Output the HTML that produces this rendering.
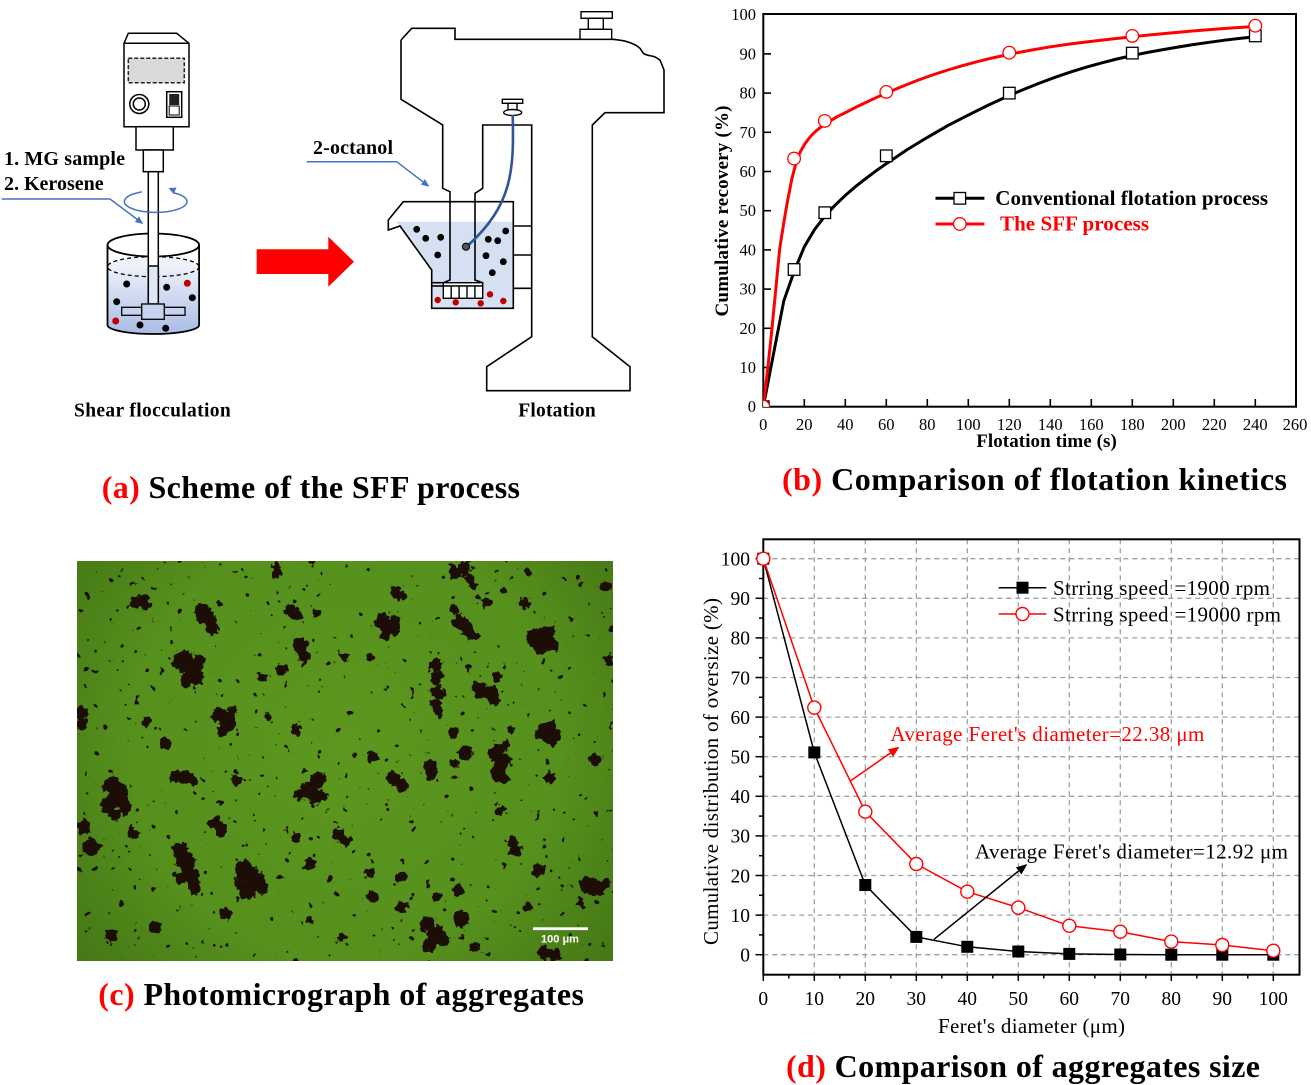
<!DOCTYPE html>
<html><head><meta charset="utf-8"><style>
html,body{margin:0;padding:0;background:#fff;}
svg{display:block;}
text{font-family:"Liberation Serif","DejaVu Serif",serif;}
</style></head><body>
<svg width="1311" height="1085" viewBox="0 0 1311 1085" xmlns="http://www.w3.org/2000/svg">
<defs>
<linearGradient id="liq" x1="0" y1="266" x2="0" y2="335" gradientUnits="userSpaceOnUse">
<stop offset="0" stop-color="#eef2fa"/><stop offset="1" stop-color="#a9bbe5"/></linearGradient>
<radialGradient id="grn" cx="345" cy="745" r="330" gradientUnits="userSpaceOnUse">
<stop offset="0" stop-color="#5c971f"/><stop offset="0.65" stop-color="#56901d"/><stop offset="1" stop-color="#467a16"/></radialGradient>
<filter id="spk" x="77" y="561" width="536" height="400" filterUnits="userSpaceOnUse" color-interpolation-filters="sRGB">
<feTurbulence type="fractalNoise" baseFrequency="0.12" numOctaves="2" seed="7" result="n"/>
<feColorMatrix in="n" type="matrix" values="0 0 0 0 0.1  0 0 0 0 0.06  0 0 0 0 0.03  24 0 0 0 -17.4"/>
</filter>
<filter id="rough" x="60" y="545" width="570" height="430" filterUnits="userSpaceOnUse" color-interpolation-filters="sRGB">
<feTurbulence type="fractalNoise" baseFrequency="0.18" numOctaves="2" seed="3" result="t"/>
<feDisplacementMap in="SourceGraphic" in2="t" scale="9" xChannelSelector="R" yChannelSelector="G"/>
</filter>
<clipPath id="cb"><rect x="763.3" y="14" width="532.7" height="392.7"/></clipPath>
<clipPath id="cph"><rect x="77" y="561" width="536" height="400"/></clipPath>
</defs>

<!-- ============ PANEL A ============ -->
<g stroke="#000" stroke-width="1.5" fill="#fff">
<path d="M128.3,33.3 L176.7,33.3 L189,43.3 L189,126.7 L124,126.7 L124,43.3 Z"/>
<line x1="124" y1="43.3" x2="189" y2="43.3"/>
<rect x="128.3" y="58.3" width="56" height="24.4" fill="#d9d9d9" stroke="#222" stroke-dasharray="4 2"/>
<circle cx="139.3" cy="104" r="9.5"/>
<circle cx="139.3" cy="104" r="6"/>
<rect x="166.7" y="91.7" width="15" height="25.6"/>
<rect x="169.2" y="94" width="10" height="11" fill="#222" stroke="none"/>
<rect x="169.2" y="106" width="10" height="9" stroke-width="1"/>
<rect x="136" y="126.7" width="37.3" height="23.3"/>
<rect x="143.3" y="150" width="20" height="21.7"/>
</g>
<path d="M107.5,266.7 A45.8,10 0 0 1 199.1,266.7 L199.1,325 A45.8,9 0 0 1 107.5,325 Z" fill="url(#liq)"/>
<ellipse cx="153.3" cy="266.7" rx="45.8" ry="10" fill="none" stroke="#000" stroke-width="1.3" stroke-dasharray="4 3"/>
<g fill="none" stroke="#000" stroke-width="1.8">
<ellipse cx="153.3" cy="245" rx="45.8" ry="11.5"/>
<line x1="107.5" y1="245" x2="107.5" y2="325"/>
<line x1="199.1" y1="245" x2="199.1" y2="325"/>
<path d="M107.5,325 A45.8,9 0 0 0 199.1,325"/>
</g>
<rect x="148.3" y="171.7" width="10" height="133" fill="#fff" stroke="#000" stroke-width="1.5"/>
<rect x="148.3" y="266" width="10" height="38" fill="#dfe7f5" stroke="#000" stroke-width="1.5"/>
<rect x="121.7" y="307.3" width="63.3" height="8" fill="#c5d3ee" stroke="#000" stroke-width="1.3"/>
<rect x="141.7" y="304" width="22.6" height="15.3" fill="#c5d3ee" stroke="#000" stroke-width="1.3"/>
<g fill="#000">
<circle cx="126.7" cy="284" r="3.5"/><circle cx="166.7" cy="287.3" r="3.5"/><circle cx="116.7" cy="301.7" r="3.5"/>
<circle cx="192.3" cy="297.7" r="3.5"/><circle cx="140" cy="325" r="3.5"/><circle cx="165.7" cy="328.3" r="3.5"/>
</g>
<circle cx="187.3" cy="283.3" r="3.5" fill="#c00000"/><circle cx="115.7" cy="321" r="3.5" fill="#c00000"/>
<path d="M141.8,191.9 A31.3,10.8 0 1 0 173,192.6" fill="none" stroke="#4472c4" stroke-width="1.5"/>
<polygon points="168.5,188 176.5,187.6 173.6,194" fill="#4472c4"/>
<polyline points="1.7,199 110,199 137.5,219.6" fill="none" stroke="#4472c4" stroke-width="1.5"/>
<polygon points="143.3,224 134.8,222 139,216.4" fill="#4472c4"/>
<text x="4" y="165" font-size="20" font-weight="bold" textLength="121">1. MG sample</text>
<text x="4" y="190" font-size="20" font-weight="bold">2. Kerosene</text>
<text x="74" y="416.7" font-size="19.5" font-weight="bold" textLength="156.7">Shear flocculation</text>
<polygon points="256.7,249.3 328.3,249.3 328.3,236.7 354,261.7 328.3,286.7 328.3,274 256.7,274" fill="#ff0000"/>

<path d="M396,221.7 L513.3,221.7 L513.3,308.3 L431.7,308.3 L431.7,270 L400,226 Z" fill="#d5e0f2"/>
<g fill="none" stroke="#000" stroke-width="1.6">
<path d="M401,40 L411.7,28.3 L455,28.3 L455,39.3 L611.7,39.3 C624,40 634,43 640,48.3 L643.3,53.3 C648,56.5 652,55 656,57.5 L660,60 L664,70 L664,112.7 L605,112.7 L592.3,125 L592.3,336.7 L630,366.7 L630,390.7 L486.7,390.7 L486.7,366.7 L531.7,336.7 L531.7,125 L482.7,125 L482.7,188.3 L475,193.3 L475,280 L482.7,282.7"/>
<path d="M401,40 L401,99.3 L442.7,125 L442.7,188.3 L450,191.7 L450,280 L443.3,282.7"/>
<path d="M403.3,201.7 L513.3,201.7 L513.3,308.3 L431.7,308.3 L431.7,270 L400,226 L388.3,230 L388.3,220 Z"/>
<line x1="513.3" y1="226" x2="531.7" y2="226"/>
<line x1="513.3" y1="255" x2="531.7" y2="255"/>
<line x1="513.3" y1="288.3" x2="531.7" y2="288.3"/>
<line x1="431.7" y1="282.7" x2="443.3" y2="282.7"/>
<line x1="431.7" y1="286" x2="443.3" y2="286"/>
</g>
<g stroke="#000" stroke-width="1.4" fill="#fff">
<rect x="443.3" y="282.7" width="39.4" height="3.3"/>
<rect x="443.3" y="286" width="39.4" height="12.3"/>
<line x1="451.2" y1="286" x2="451.2" y2="298.3"/><line x1="459.1" y1="286" x2="459.1" y2="298.3"/>
<line x1="467" y1="286" x2="467" y2="298.3"/><line x1="474.9" y1="286" x2="474.9" y2="298.3"/>
<rect x="581" y="11.7" width="31.3" height="6.6"/>
<rect x="588.3" y="18.3" width="15" height="11"/>
<rect x="580" y="29.3" width="31.7" height="10"/>
<rect x="502.3" y="99.3" width="20.4" height="4"/>
<rect x="508" y="103.3" width="9" height="6.5"/>
<ellipse cx="512.7" cy="112.5" rx="9" ry="3"/>
</g>
<path d="M512.7,115 C514,170 513,205 466.7,246.7" fill="none" stroke="#2e5597" stroke-width="2.6"/>
<circle cx="466" cy="246.7" r="3.6" fill="#555" stroke="#000" stroke-width="1"/>
<g fill="#000">
<circle cx="416.7" cy="229.3" r="3.4"/><circle cx="425.7" cy="238.3" r="3.4"/><circle cx="440.7" cy="237.3" r="3.4"/>
<circle cx="437.7" cy="255" r="3.4"/><circle cx="488.3" cy="239.3" r="3.4"/><circle cx="497.7" cy="240.7" r="3.4"/>
<circle cx="505.7" cy="231" r="3.4"/><circle cx="486" cy="255.7" r="3.4"/><circle cx="503.3" cy="261.7" r="3.4"/>
<circle cx="492.3" cy="272.7" r="3.4"/>
</g>
<g fill="#c00000">
<circle cx="437.7" cy="300" r="3.2"/><circle cx="455.7" cy="302.3" r="3.2"/><circle cx="480.7" cy="303.3" r="3.2"/>
<circle cx="490" cy="294.3" r="3.2"/><circle cx="503.3" cy="301" r="3.2"/>
</g>
<polyline points="306.7,161.7 396.7,161.7 422.9,181.8" fill="none" stroke="#4472c4" stroke-width="1.5"/>
<polygon points="429.3,186.7 420.8,184.6 425,179" fill="#4472c4"/>
<text x="313" y="154" font-size="20" font-weight="bold" textLength="80">2-octanol</text>
<text x="518.3" y="416.7" font-size="19.5" font-weight="bold" textLength="77.4">Flotation</text>

<!-- ============ PANEL B ============ -->
<rect x="763.3" y="14" width="532.7" height="392.7" fill="none" stroke="#000" stroke-width="2"/>
<g stroke="#000" stroke-width="1.6">
<line x1="763.3" y1="367.5" x2="771" y2="367.5"/><line x1="763.3" y1="328.3" x2="771" y2="328.3"/>
<line x1="763.3" y1="289.1" x2="771" y2="289.1"/><line x1="763.3" y1="249.9" x2="771" y2="249.9"/>
<line x1="763.3" y1="210.7" x2="771" y2="210.7"/><line x1="763.3" y1="171.5" x2="771" y2="171.5"/>
<line x1="763.3" y1="132.3" x2="771" y2="132.3"/><line x1="763.3" y1="93.1" x2="771" y2="93.1"/>
<line x1="763.3" y1="53.9" x2="771" y2="53.9"/>
<line x1="804.3" y1="406.7" x2="804.3" y2="399"/><line x1="845.3" y1="406.7" x2="845.3" y2="399"/>
<line x1="886.3" y1="406.7" x2="886.3" y2="399"/><line x1="927.3" y1="406.7" x2="927.3" y2="399"/>
<line x1="968.3" y1="406.7" x2="968.3" y2="399"/><line x1="1009.3" y1="406.7" x2="1009.3" y2="399"/>
<line x1="1050.3" y1="406.7" x2="1050.3" y2="399"/><line x1="1091.3" y1="406.7" x2="1091.3" y2="399"/>
<line x1="1132.3" y1="406.7" x2="1132.3" y2="399"/><line x1="1173.3" y1="406.7" x2="1173.3" y2="399"/>
<line x1="1214.3" y1="406.7" x2="1214.3" y2="399"/><line x1="1255.3" y1="406.7" x2="1255.3" y2="399"/>
</g>
<g font-size="16.5" text-anchor="end">
<text x="756" y="412.2">0</text><text x="756" y="373">10</text><text x="756" y="333.8">20</text>
<text x="756" y="294.6">30</text><text x="756" y="255.4">40</text><text x="756" y="216.2">50</text>
<text x="756" y="177">60</text><text x="756" y="137.8">70</text><text x="756" y="98.6">80</text>
<text x="756" y="59.4">90</text><text x="756" y="20.2">100</text>
</g>
<g font-size="16.5" text-anchor="middle">
<text x="763.3" y="430">0</text><text x="804.3" y="430">20</text><text x="845.3" y="430">40</text>
<text x="886.3" y="430">60</text><text x="927.3" y="430">80</text><text x="968.3" y="430">100</text>
<text x="1009.3" y="430">120</text><text x="1050.3" y="430">140</text><text x="1091.3" y="430">160</text>
<text x="1132.3" y="430">180</text><text x="1173.3" y="430">200</text><text x="1214.3" y="430">220</text>
<text x="1255.3" y="430">240</text><text x="1295" y="430">260</text>
</g>
<text transform="translate(728,211) rotate(-90)" text-anchor="middle" font-size="19" font-weight="bold" textLength="211">Cumulative recovery (%)</text>
<text x="1046.5" y="447" text-anchor="middle" font-size="19" font-weight="bold" textLength="140.6">Flotation time (s)</text>
<g clip-path="url(#cb)">
<polyline fill="none" stroke="#000" stroke-width="3" stroke-linejoin="round" points="763.3,406.7 773.6,353.4 783.8,300.9 794.1,271.5 804.3,246.8 814.6,229.5 824.8,216.2 835.1,205.2 845.3,195.4 855.5,186.6 865.8,178.6 876,170.9 886.3,163.7 906.8,149.9 927.3,137.4 947.8,125.6 968.3,115.1 988.8,104.9 1009.3,95.5 1024.7,89 1040.1,82.9 1055.4,77.2 1070.8,71.9 1086.2,67.2 1101.6,62.9 1116.9,59 1132.3,55.5 1147.7,52.4 1163.1,49.6 1178.4,47 1193.8,44.5 1209.2,42.3 1224.6,40.2 1239.9,38.4 1255.3,36.7"/>
<polyline fill="none" stroke="#ff0000" stroke-width="3" stroke-linejoin="round" points="763.3,406.7 767.4,371.4 771.5,333.4 775.6,291.1 779.7,248.7 783.8,222.5 787.9,198.9 792,178.2 796.1,162.5 800.2,151.9 804.3,144.8 808.4,139 812.5,134.3 816.6,130.5 820.7,127.2 828.9,121.7 837.1,116.7 845.3,112.7 855.5,107.4 865.8,102.5 876,97.7 886.3,93.1 901.7,86.6 917.1,80.5 932.4,75 947.8,70 963.2,65.4 978.6,61.3 993.9,57.6 1009.3,54.3 1029.8,50.4 1050.3,46.8 1070.8,43.9 1091.3,41.4 1111.8,39 1132.3,36.7 1152.8,34.6 1173.3,32.7 1193.8,30.9 1214.3,29.2 1234.8,27.8 1255.3,26.5"/>
<g fill="#fff" stroke="#000" stroke-width="1.3">
<rect x="757.5" y="400.9" width="11.6" height="11.6"/><rect x="788.3" y="263.7" width="11.6" height="11.6"/>
<rect x="819" y="206.9" width="11.6" height="11.6"/><rect x="880.5" y="150" width="11.6" height="11.6"/>
<rect x="1003.5" y="87.3" width="11.6" height="11.6"/><rect x="1126.5" y="47.3" width="11.6" height="11.6"/>
<rect x="1249.5" y="30.1" width="11.6" height="11.6"/>
</g>
<g fill="#fff" stroke="#ff0000" stroke-width="1.3">
<circle cx="763.3" cy="406.7" r="6.3"/><circle cx="794.1" cy="158.6" r="6.3"/><circle cx="824.8" cy="120.9" r="6.3"/>
<circle cx="886.3" cy="91.9" r="6.3"/><circle cx="1009.3" cy="52.7" r="6.3"/><circle cx="1132.3" cy="35.9" r="6.3"/>
<circle cx="1255.3" cy="25.7" r="6.3"/>
</g>
</g>
<line x1="935.5" y1="198.3" x2="984.4" y2="198.3" stroke="#000" stroke-width="3"/>
<rect x="954" y="192.5" width="11.6" height="11.6" fill="#fff" stroke="#000" stroke-width="1.3"/>
<line x1="935.5" y1="224" x2="984.4" y2="224" stroke="#ff0000" stroke-width="3"/>
<circle cx="959.8" cy="224" r="6.3" fill="#fff" stroke="#ff0000" stroke-width="1.3"/>
<text x="995.3" y="205" font-size="21" font-weight="bold" textLength="272.7">Conventional flotation process</text>
<text x="1000" y="230.7" font-size="21" font-weight="bold" fill="#ff0000" textLength="149">The SFF process</text>

<!-- captions -->
<text x="101.7" y="498" font-size="32" font-weight="bold" textLength="418.3"><tspan fill="#ff0000">(a)</tspan> Scheme of the SFF process</text>
<text x="782" y="490" font-size="32" font-weight="bold" textLength="505"><tspan fill="#ff0000">(b)</tspan> Comparison of flotation kinetics</text>
<text x="98.3" y="1005" font-size="32" font-weight="bold" textLength="485.7"><tspan fill="#ff0000">(c)</tspan> Photomicrograph of aggregates</text>
<text x="786" y="1077" font-size="32" font-weight="bold" textLength="474"><tspan fill="#ff0000">(d)</tspan> Comparison of aggregates size</text>

<!-- ============ PANEL C (photo) ============ -->
<rect x="77" y="561" width="536" height="400" fill="url(#grn)"/>
<g clip-path="url(#cph)">
<rect x="77" y="561" width="536" height="400" filter="url(#spk)"/>
<g fill="#1c0d07" filter="url(#rough)">
<circle cx="133.5" cy="583" r="3"/><circle cx="135" cy="603" r="6"/><circle cx="143" cy="601" r="6"/><circle cx="148" cy="606" r="4"/>
<circle cx="276" cy="566" r="5"/><circle cx="277" cy="574" r="5"/><circle cx="313" cy="563" r="3"/>
<circle cx="455" cy="572" r="7"/><circle cx="465" cy="568" r="7"/><circle cx="470" cy="578" r="5"/><circle cx="472" cy="585" r="4"/>
<circle cx="396" cy="592" r="6"/><circle cx="402" cy="596" r="5"/><circle cx="528" cy="573" r="4"/><circle cx="525" cy="603" r="5"/>
<circle cx="606" cy="587" r="6"/><circle cx="581" cy="583" r="2"/><circle cx="504" cy="590" r="3"/>
<circle cx="203" cy="610" r="8"/><circle cx="210" cy="620" r="7"/><circle cx="212" cy="630" r="6"/><circle cx="200" cy="618" r="5"/>
<circle cx="290" cy="610" r="6"/><circle cx="295" cy="615" r="6"/><circle cx="317" cy="613" r="4"/>
<circle cx="383" cy="622" r="8"/><circle cx="392" cy="628" r="8"/><circle cx="385" cy="635" r="6"/><circle cx="395" cy="620" r="5"/>
<circle cx="460" cy="622" r="7"/><circle cx="468" cy="630" r="7"/><circle cx="474" cy="637" r="5"/>
<circle cx="486" cy="603" r="5"/><circle cx="454" cy="610" r="5"/>
<circle cx="535" cy="638" r="9"/><circle cx="546" cy="635" r="9"/><circle cx="552" cy="645" r="7"/><circle cx="540" cy="648" r="6"/>
<circle cx="609" cy="660" r="5"/>
<circle cx="183" cy="660" r="10"/><circle cx="192" cy="668" r="11"/><circle cx="196" cy="678" r="8"/><circle cx="186" cy="680" r="7"/><circle cx="178" cy="665" r="6"/><circle cx="200" cy="660" r="6"/>
<circle cx="300" cy="645" r="7"/><circle cx="304" cy="655" r="7"/><circle cx="281.6" cy="670" r="6"/><circle cx="262" cy="677" r="5"/>
<circle cx="345" cy="657" r="5"/><circle cx="370" cy="657" r="4"/>
<circle cx="436" cy="665" r="6"/><circle cx="437" cy="678" r="7"/><circle cx="438" cy="692" r="7"/><circle cx="436" cy="705" r="6"/><circle cx="438" cy="712" r="5"/>
<circle cx="480" cy="690" r="8"/><circle cx="490" cy="693" r="8"/><circle cx="495" cy="700" r="5"/><circle cx="497" cy="677" r="5"/><circle cx="468" cy="667" r="4"/>
<circle cx="220" cy="715" r="8"/><circle cx="228" cy="722" r="9"/><circle cx="222" cy="730" r="6"/><circle cx="232" cy="712" r="5"/>
<circle cx="80" cy="712" r="7"/><circle cx="82" cy="724" r="6"/><circle cx="165" cy="743" r="6"/><circle cx="147.6" cy="722" r="5"/>
<circle cx="295.7" cy="730" r="6"/><circle cx="545" cy="733" r="9"/><circle cx="553" cy="737" r="8"/><circle cx="550" cy="727" r="6"/>
<circle cx="454" cy="733" r="6"/><circle cx="510.8" cy="730" r="4"/><circle cx="352" cy="713" r="3"/><circle cx="267.5" cy="717" r="4"/>
<circle cx="496" cy="752" r="8"/><circle cx="502" cy="762" r="9"/><circle cx="498" cy="773" r="8"/><circle cx="505" cy="780" r="5"/><circle cx="505" cy="745" r="5"/>
<circle cx="465" cy="753" r="7"/><circle cx="454" cy="763" r="5"/><circle cx="430" cy="766" r="6"/><circle cx="431" cy="774" r="6"/>
<circle cx="394" cy="778" r="7"/><circle cx="402" cy="785" r="6"/><circle cx="373" cy="757" r="5"/>
<circle cx="318" cy="780" r="8"/><circle cx="310" cy="790" r="9"/><circle cx="300" cy="795" r="6"/><circle cx="322" cy="795" r="6"/><circle cx="315" cy="800" r="5"/>
<circle cx="175" cy="776" r="6"/><circle cx="185" cy="777" r="7"/><circle cx="193" cy="780" r="5"/>
<circle cx="112" cy="785" r="9"/><circle cx="118" cy="795" r="11"/><circle cx="108" cy="805" r="8"/><circle cx="125" cy="808" r="7"/><circle cx="115" cy="815" r="6"/>
<circle cx="236" cy="780" r="5"/><circle cx="549.5" cy="777" r="6"/><circle cx="595" cy="760" r="6"/>
<circle cx="91" cy="847" r="9"/><circle cx="84" cy="827" r="7"/><circle cx="133.5" cy="833" r="6"/>
<circle cx="215" cy="823" r="7"/><circle cx="221" cy="830" r="6"/><circle cx="338" cy="835" r="6"/><circle cx="345" cy="840" r="6"/><circle cx="295.7" cy="837" r="5"/>
<circle cx="180" cy="850" r="8"/><circle cx="186" cy="862" r="10"/><circle cx="190" cy="875" r="9"/><circle cx="195" cy="888" r="7"/><circle cx="180" cy="878" r="6"/>
<circle cx="245" cy="870" r="10"/><circle cx="255" cy="880" r="10"/><circle cx="248" cy="892" r="8"/><circle cx="262" cy="888" r="6"/><circle cx="240" cy="885" r="6"/>
<circle cx="512" cy="843" r="6"/><circle cx="516" cy="851" r="6"/><circle cx="539" cy="870" r="7"/><circle cx="500" cy="810" r="5"/>
<circle cx="310" cy="863" r="6"/><circle cx="370" cy="873" r="6"/><circle cx="401.5" cy="877" r="5"/>
<circle cx="588" cy="885" r="8"/><circle cx="598" cy="888" r="8"/><circle cx="606" cy="884" r="5"/>
<circle cx="458" cy="890" r="6"/><circle cx="437" cy="897" r="5"/>
<circle cx="112" cy="937" r="7"/><circle cx="154.6" cy="927" r="6"/><circle cx="225" cy="913" r="6"/>
<circle cx="428" cy="925" r="8"/><circle cx="436" cy="935" r="9"/><circle cx="430" cy="945" r="7"/><circle cx="443" cy="940" r="6"/>
<circle cx="461" cy="920" r="8"/><circle cx="475.5" cy="947" r="6"/><circle cx="545" cy="953" r="7"/><circle cx="554" cy="955" r="6"/>
<circle cx="401.5" cy="907" r="6"/><circle cx="373" cy="897" r="6"/><circle cx="341.5" cy="937" r="4"/><circle cx="310" cy="920" r="4"/>
<circle cx="528" cy="907" r="4"/><circle cx="581" cy="903" r="4"/>
</g>
</g>
<rect x="533" y="927.3" width="55" height="2.8" fill="#fff"/>
<text x="560" y="942.5" font-size="11" font-weight="bold" fill="#fff" text-anchor="middle" style="font-family:'Liberation Sans',sans-serif">100 μm</text>

<!-- ============ PANEL D ============ -->
<g stroke="#a0a0a0" stroke-width="1.3" stroke-dasharray="5 4">
<line x1="814.3" y1="539.3" x2="814.3" y2="974.7"/><line x1="865.3" y1="539.3" x2="865.3" y2="974.7"/>
<line x1="916.3" y1="539.3" x2="916.3" y2="974.7"/><line x1="967.3" y1="539.3" x2="967.3" y2="974.7"/>
<line x1="1018.3" y1="539.3" x2="1018.3" y2="974.7"/><line x1="1069.3" y1="539.3" x2="1069.3" y2="974.7"/>
<line x1="1120.3" y1="539.3" x2="1120.3" y2="974.7"/><line x1="1171.3" y1="539.3" x2="1171.3" y2="974.7"/>
<line x1="1222.3" y1="539.3" x2="1222.3" y2="974.7"/><line x1="1273.3" y1="539.3" x2="1273.3" y2="974.7"/>
<line x1="763.3" y1="954.7" x2="1299.5" y2="954.7"/><line x1="763.3" y1="915.1" x2="1299.5" y2="915.1"/>
<line x1="763.3" y1="875.5" x2="1299.5" y2="875.5"/><line x1="763.3" y1="835.9" x2="1299.5" y2="835.9"/>
<line x1="763.3" y1="796.3" x2="1299.5" y2="796.3"/><line x1="763.3" y1="756.7" x2="1299.5" y2="756.7"/>
<line x1="763.3" y1="717.1" x2="1299.5" y2="717.1"/><line x1="763.3" y1="677.5" x2="1299.5" y2="677.5"/>
<line x1="763.3" y1="637.9" x2="1299.5" y2="637.9"/><line x1="763.3" y1="598.3" x2="1299.5" y2="598.3"/>
<line x1="763.3" y1="558.7" x2="1299.5" y2="558.7"/>
</g>
<rect x="763.3" y="539.3" width="536.2" height="435.4" fill="none" stroke="#000" stroke-width="2"/>
<g stroke="#000" stroke-width="1.5">
<line x1="755.5" y1="954.7" x2="763.3" y2="954.7"/><line x1="755.5" y1="915.1" x2="763.3" y2="915.1"/>
<line x1="755.5" y1="875.5" x2="763.3" y2="875.5"/><line x1="755.5" y1="835.9" x2="763.3" y2="835.9"/>
<line x1="755.5" y1="796.3" x2="763.3" y2="796.3"/><line x1="755.5" y1="756.7" x2="763.3" y2="756.7"/>
<line x1="755.5" y1="717.1" x2="763.3" y2="717.1"/><line x1="755.5" y1="677.5" x2="763.3" y2="677.5"/>
<line x1="755.5" y1="637.9" x2="763.3" y2="637.9"/><line x1="755.5" y1="598.3" x2="763.3" y2="598.3"/>
<line x1="755.5" y1="558.7" x2="763.3" y2="558.7"/>
<line x1="759" y1="934.9" x2="763.3" y2="934.9"/><line x1="759" y1="895.3" x2="763.3" y2="895.3"/>
<line x1="759" y1="855.7" x2="763.3" y2="855.7"/><line x1="759" y1="816.1" x2="763.3" y2="816.1"/>
<line x1="759" y1="776.5" x2="763.3" y2="776.5"/><line x1="759" y1="736.9" x2="763.3" y2="736.9"/>
<line x1="759" y1="697.3" x2="763.3" y2="697.3"/><line x1="759" y1="657.7" x2="763.3" y2="657.7"/>
<line x1="759" y1="618.1" x2="763.3" y2="618.1"/><line x1="759" y1="578.5" x2="763.3" y2="578.5"/>
<line x1="763.3" y1="974.7" x2="763.3" y2="981"/><line x1="814.3" y1="974.7" x2="814.3" y2="981"/>
<line x1="865.3" y1="974.7" x2="865.3" y2="981"/><line x1="916.3" y1="974.7" x2="916.3" y2="981"/>
<line x1="967.3" y1="974.7" x2="967.3" y2="981"/><line x1="1018.3" y1="974.7" x2="1018.3" y2="981"/>
<line x1="1069.3" y1="974.7" x2="1069.3" y2="981"/><line x1="1120.3" y1="974.7" x2="1120.3" y2="981"/>
<line x1="1171.3" y1="974.7" x2="1171.3" y2="981"/><line x1="1222.3" y1="974.7" x2="1222.3" y2="981"/>
<line x1="1273.3" y1="974.7" x2="1273.3" y2="981"/>
<line x1="788.8" y1="974.7" x2="788.8" y2="978.5"/><line x1="839.8" y1="974.7" x2="839.8" y2="978.5"/>
<line x1="890.8" y1="974.7" x2="890.8" y2="978.5"/><line x1="941.8" y1="974.7" x2="941.8" y2="978.5"/>
<line x1="992.8" y1="974.7" x2="992.8" y2="978.5"/><line x1="1043.8" y1="974.7" x2="1043.8" y2="978.5"/>
<line x1="1094.8" y1="974.7" x2="1094.8" y2="978.5"/><line x1="1145.8" y1="974.7" x2="1145.8" y2="978.5"/>
<line x1="1196.8" y1="974.7" x2="1196.8" y2="978.5"/><line x1="1247.8" y1="974.7" x2="1247.8" y2="978.5"/>
</g>
<g font-size="19.5" text-anchor="end">
<text x="750" y="961.5">0</text><text x="750" y="921.9">10</text><text x="750" y="882.3">20</text>
<text x="750" y="842.7">30</text><text x="750" y="803.1">40</text><text x="750" y="763.5">50</text>
<text x="750" y="723.9">60</text><text x="750" y="684.3">70</text><text x="750" y="644.7">80</text>
<text x="750" y="605.1">90</text><text x="750" y="565.5">100</text>
</g>
<g font-size="19.5" text-anchor="middle">
<text x="763.3" y="1005">0</text><text x="814.3" y="1005">10</text><text x="865.3" y="1005">20</text>
<text x="916.3" y="1005">30</text><text x="967.3" y="1005">40</text><text x="1018.3" y="1005">50</text>
<text x="1069.3" y="1005">60</text><text x="1120.3" y="1005">70</text><text x="1171.3" y="1005">80</text>
<text x="1222.3" y="1005">90</text><text x="1273.3" y="1005">100</text>
</g>
<text transform="translate(718,771.5) rotate(-90)" text-anchor="middle" font-size="21" textLength="347">Cumulative distribution of oversize (%)</text>
<text x="1031.5" y="1033" text-anchor="middle" font-size="21" textLength="187">Feret's diameter (μm)</text>
<polyline fill="none" stroke="#000" stroke-width="1.5" stroke-linejoin="round" points="763.3,558.7 814.3,752.4 865.3,885 916.3,936.9 967.3,946.8 1018.3,951.5 1069.3,953.9 1120.3,954.5 1171.3,954.7 1222.3,954.7 1273.3,954.7"/>
<g fill="#000">
<rect x="757.3" y="552.7" width="12" height="12"/><rect x="808.3" y="746.4" width="12" height="12"/>
<rect x="859.3" y="879" width="12" height="12"/><rect x="910.3" y="930.9" width="12" height="12"/>
<rect x="961.3" y="940.8" width="12" height="12"/><rect x="1012.3" y="945.5" width="12" height="12"/>
<rect x="1063.3" y="947.9" width="12" height="12"/><rect x="1114.3" y="948.5" width="12" height="12"/>
<rect x="1165.3" y="948.7" width="12" height="12"/><rect x="1216.3" y="948.7" width="12" height="12"/>
<rect x="1267.3" y="948.7" width="12" height="12"/>
</g>
<polyline fill="none" stroke="#ff0000" stroke-width="1.5" stroke-linejoin="round" points="763.3,558.7 814.3,707.6 865.3,811.7 916.3,864 967.3,891.7 1018.3,907.6 1069.3,925.8 1120.3,931.7 1171.3,941.6 1222.3,945 1273.3,950.7"/>
<g fill="#fff" stroke="#ff0000" stroke-width="1.4">
<circle cx="763.3" cy="558.7" r="6.5"/><circle cx="814.3" cy="707.6" r="6.5"/><circle cx="865.3" cy="811.7" r="6.5"/>
<circle cx="916.3" cy="864" r="6.5"/><circle cx="967.3" cy="891.7" r="6.5"/><circle cx="1018.3" cy="907.6" r="6.5"/>
<circle cx="1069.3" cy="925.8" r="6.5"/><circle cx="1120.3" cy="931.7" r="6.5"/><circle cx="1171.3" cy="941.6" r="6.5"/>
<circle cx="1222.3" cy="945" r="6.5"/><circle cx="1273.3" cy="950.7" r="6.5"/>
</g>
<line x1="998.7" y1="587.7" x2="1046.3" y2="587.7" stroke="#000" stroke-width="1.5"/>
<rect x="1016.5" y="581.7" width="12" height="12" fill="#000"/>
<line x1="998.7" y1="614" x2="1046.3" y2="614" stroke="#ff0000" stroke-width="1.5"/>
<circle cx="1022.5" cy="614" r="6.5" fill="#fff" stroke="#ff0000" stroke-width="1.4"/>
<text x="1053" y="595" font-size="21" textLength="217">Strring speed =1900 rpm</text>
<text x="1053" y="621.7" font-size="21" textLength="228">Strring speed =19000 rpm</text>
<text x="890.4" y="741" font-size="21" fill="#ff0000" textLength="314">Average Feret's diameter=22.38 μm</text>
<line x1="850.7" y1="780.7" x2="890.5" y2="753" stroke="#ff0000" stroke-width="1.5"/>
<polygon points="899.5,746.7 893.1,756.7 887.9,749.3" fill="#ff0000"/>
<text x="975" y="858.3" font-size="21" fill="#000" textLength="313">Average Feret's diameter=12.92 μm</text>
<line x1="934" y1="939.3" x2="1018.7" y2="870.9" stroke="#000" stroke-width="1.5"/>
<polygon points="1027.3,864 1021.5,874.4 1015.9,867.4" fill="#000"/>
</svg>
</body></html>
